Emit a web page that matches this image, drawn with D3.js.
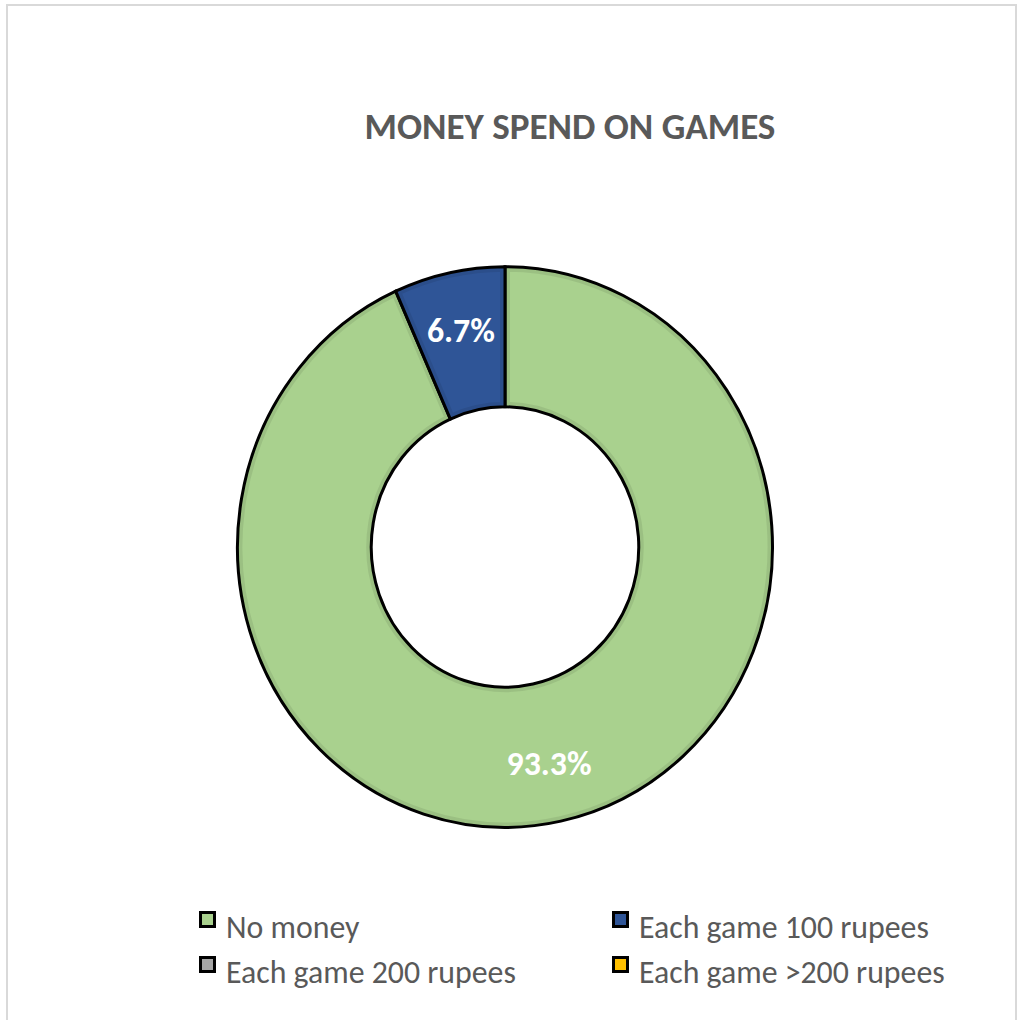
<!DOCTYPE html>
<html>
<head>
<meta charset="utf-8">
<script src="https://cdn.jsdelivr.net/npm/d3@7"></script>
<style>
  html, body { margin: 0; padding: 0; background: #ffffff; }
  svg { display: block; }
</style>
</head>
<body>
<svg id="chart" width="1020" height="1020"></svg>
<script>
// Chart content
const chartTitle = "MONEY SPEND ON GAMES";
const categories = ["No money", "Each game 100 rupees", "Each game 200 rupees", "Each game >200 rupees"];
const shares = [93.3, 6.7, 0, 0];          // percent of respondents
const sliceColors = ["#A9D18E", "#2F5597", "#A5A5A5", "#FFC000"];

const svg = d3.select("#chart");
const W = 1020, H = 1020;
const textFont = "Calibri, Carlito, Lato, 'Open Sans', sans-serif";
const textGrey = "#595959";

// background + chart-area frame
svg.append("rect").attr("width", W).attr("height", H).attr("fill", "#ffffff");
svg.append("rect")
  .attr("x", 7).attr("y", 5).attr("width", 1009).attr("height", 1030)
  .attr("fill", "none").attr("stroke", "#d9d9d9").attr("stroke-width", 2);

// size a text element so that it spans the requested width
function fitWidth(sel, target, startSize) {
  sel.style("font-size", startSize + "px");
  const w = sel.node().getComputedTextLength();
  const size = startSize * target / w;
  sel.style("font-size", size + "px");
  return size;
}

// title
const titleText = svg.append("text")
  .attr("x", 570).attr("y", 139)
  .attr("text-anchor", "middle")
  .attr("font-family", textFont)
  .attr("font-weight", "bold")
  .attr("fill", textGrey)
  .text(chartTitle);
fitWidth(titleText, 411, 30);

// donut
const cx = 505, cy = 547;
const outerR = 267.5, innerR = 133.75;
const yStretch = 1.048;

const pie = d3.pie().sort(null).value(d => d.value);
const arcs = pie(categories.map((c, i) => ({ name: c, value: shares[i], color: sliceColors[i] })))
  .filter(a => a.data.value > 0);
const arc = d3.arc().innerRadius(innerR).outerRadius(outerR);

const g = svg.append("g")
  .attr("transform", `translate(${cx},${cy}) scale(1,${yStretch})`);

const defs = svg.append("defs");
arcs.forEach((a, i) => {
  defs.append("clipPath").attr("id", "slice-clip-" + i)
    .append("path").attr("d", arc(a));
});

const slices = g.selectAll("g.slice").data(arcs).join("g").attr("class", "slice");
slices.append("path")
  .attr("d", arc)
  .attr("fill", d => d.data.color);
// soft inner edge shading
slices.append("path")
  .attr("d", arc)
  .attr("fill", "none")
  .attr("stroke", "rgba(0,0,0,0.08)")
  .attr("stroke-width", 10)
  .attr("vector-effect", "non-scaling-stroke")
  .attr("clip-path", (d, i) => `url(#slice-clip-${i})`);
// outline
slices.append("path")
  .attr("d", arc)
  .attr("fill", "none")
  .attr("stroke", "#000000")
  .attr("stroke-width", 3)
  .attr("stroke-linejoin", "miter")
  .attr("vector-effect", "non-scaling-stroke");

// data labels, placed a little outside the ring's mid-line
const labelR = 211;
const labelArc = d3.arc().innerRadius(labelR).outerRadius(labelR);
arcs.forEach(a => {
  const [lx, ly] = labelArc.centroid(a);
  const t = svg.append("text")
    .attr("x", cx + lx)
    .attr("y", cy + ly * yStretch)
    .attr("text-anchor", "middle")
    .attr("dominant-baseline", "central")
    .attr("font-family", textFont)
    .attr("font-weight", "bold")
    .attr("fill", "#ffffff")
    .text(d3.format(".1f")(a.data.value) + "%");
  fitWidth(t, a.data.value > 50 ? 85 : 68, 26);
});

// legend: two columns, two rows
const legendCols = [199, 612];
const legendRows = [911, 956];
const box = 17;
const legend = svg.append("g");
const probe = svg.append("text").attr("font-family", textFont).text(categories[1]);
const legendSize = fitWidth(probe, 290, 26);
probe.remove();
categories.forEach((c, i) => {
  const x = legendCols[i % 2], y = legendRows[Math.floor(i / 2)];
  legend.append("rect")
    .attr("x", x + 1.5).attr("y", y + 1.5)
    .attr("width", box - 3).attr("height", box - 3)
    .attr("fill", sliceColors[i])
    .attr("stroke", "#000000").attr("stroke-width", 3);
  legend.append("text")
    .attr("x", x + 27).attr("y", y + 27)
    .attr("font-family", textFont)
    .attr("fill", textGrey)
    .style("font-size", legendSize + "px")
    .text(c);
});
</script>
</body>
</html>
